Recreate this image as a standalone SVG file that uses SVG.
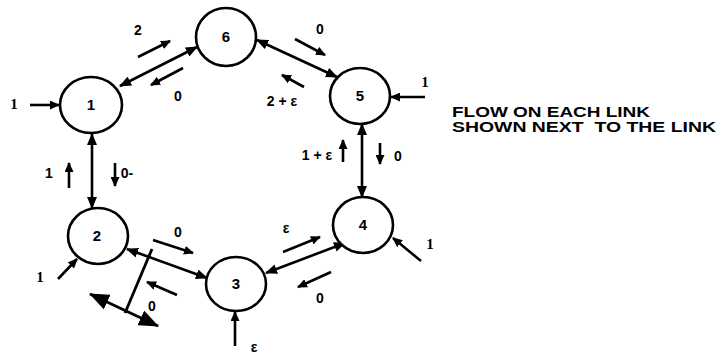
<svg xmlns="http://www.w3.org/2000/svg" width="717" height="357" viewBox="0 0 717 357">
  <style>
    .node ellipse { fill: #fff; stroke: #000; stroke-width: 2.6; }
    .node text { font-family: "Liberation Sans", Arial, sans-serif; font-weight: bold; font-size: 15px; text-anchor: middle; }
    .link { stroke: #000; stroke-width: 2.6; fill: none; marker-start: url(#head); marker-end: url(#head); }
    .flow { stroke: #000; stroke-width: 2.6; fill: none; marker-end: url(#small); }
    .lbl { font-family: "Liberation Sans", Arial, sans-serif; font-weight: bold; font-size: 14px; text-anchor: middle; }
    .ext { font-family: "Liberation Serif", "Times New Roman", serif; font-weight: bold; font-size: 15px; text-anchor: middle; }
    .note { font-family: "Liberation Sans", Arial, sans-serif; font-weight: bold; font-size: 14px; white-space: pre; }
  </style>
  <defs>
    <marker id="head" viewBox="0 0 12 10" refX="11" refY="5" markerWidth="12" markerHeight="10" markerUnits="userSpaceOnUse" orient="auto-start-reverse">
      <path d="M0,0 L12,5 L0,10 z" fill="#000"/>
    </marker>
    <marker id="small" viewBox="0 0 10 9" refX="9" refY="4.5" markerWidth="10" markerHeight="9" markerUnits="userSpaceOnUse" orient="auto">
      <path d="M0,0 L10,4.5 L0,9 z" fill="#000"/>
    </marker>
    <marker id="big" viewBox="0 0 20 16" refX="19" refY="8" markerWidth="20" markerHeight="16" markerUnits="userSpaceOnUse" orient="auto-start-reverse">
      <path d="M0,0 L20,8 L0,16 z" fill="#000"/>
    </marker>
  </defs>

  <!-- links between nodes, arrowheads at both ends -->
  <g id="links">
    <line class="link" x1="120" y1="86" x2="197" y2="47"/>
    <line class="link" x1="257" y1="40" x2="337" y2="77"/>
    <line class="link" x1="92" y1="134" x2="92" y2="208"/>
    <line class="link" x1="362" y1="124" x2="362" y2="197"/>
    <line class="link" x1="127" y1="249" x2="207" y2="278"/>
    <line class="link" x1="266" y1="273" x2="345" y2="243"/>
    <!-- cut across link 2-3 with its double arrow -->
    <line x1="152" y1="249" x2="125" y2="313" stroke="#000" stroke-width="2.8"/>
    <line x1="90" y1="294" x2="158" y2="326" stroke="#000" stroke-width="2.8" marker-start="url(#big)" marker-end="url(#big)"/>
  </g>

  <!-- flow indicators and external inputs -->
  <g id="flows">
    <line class="flow" x1="138" y1="57" x2="170" y2="41"/>
    <line class="flow" x1="183" y1="68" x2="151" y2="85"/>
    <line class="flow" x1="295" y1="39" x2="325" y2="55"/>
    <line class="flow" x1="304" y1="87" x2="282" y2="75"/>
    <line class="flow" x1="30" y1="105" x2="59" y2="105"/>
    <line class="flow" x1="425" y1="97" x2="391" y2="97"/>
    <line class="flow" x1="69" y1="188" x2="69" y2="163"/>
    <line class="flow" x1="115" y1="163" x2="115" y2="186"/>
    <line class="flow" x1="343" y1="162" x2="343" y2="140"/>
    <line class="flow" x1="380" y1="143" x2="380" y2="164"/>
    <line class="flow" x1="153" y1="240" x2="193" y2="253"/>
    <line class="flow" x1="177" y1="295" x2="147" y2="282"/>
    <line class="flow" x1="58" y1="279" x2="77" y2="259"/>
    <line class="flow" x1="283" y1="252" x2="320" y2="237"/>
    <line class="flow" x1="331" y1="272" x2="298" y2="287"/>
    <line class="flow" x1="421" y1="261" x2="393" y2="238"/>
    <line class="flow" x1="235" y1="346" x2="235" y2="312"/>
  </g>

  <g id="labels">
    <text class="lbl" x="138" y="35">2</text>
    <text class="lbl" x="178" y="101">0</text>
    <text class="lbl" x="320" y="34">0</text>
    <text class="lbl" x="282" y="106">2 + ε</text>
    <text class="ext" x="14" y="109">1</text>
    <text class="ext" x="425" y="87">1</text>
    <text class="lbl" x="49" y="178">1</text>
    <text class="lbl" x="127" y="178" text-anchor="start">0-</text>
    <text class="lbl" x="317" y="160">1 + ε</text>
    <text class="lbl" x="398" y="161">0</text>
    <text class="lbl" x="178" y="237">0</text>
    <text class="lbl" x="152" y="311">0</text>
    <text class="ext" x="40" y="282">1</text>
    <text class="lbl" x="286" y="233">ε</text>
    <text class="lbl" x="320" y="303">0</text>
    <text class="ext" x="430" y="249">1</text>
    <text class="lbl" x="254" y="352">ε</text>
  </g>

  <g id="node1" class="node"><ellipse cx="91" cy="105" rx="31" ry="28"/><text x="91" y="110">1</text></g>
  <g id="node2" class="node"><ellipse cx="98" cy="236" rx="30" ry="28"/><text x="97" y="241">2</text></g>
  <g id="node3" class="node"><ellipse cx="236" cy="284" rx="30" ry="27"/><text x="236" y="289">3</text></g>
  <g id="node4" class="node"><ellipse cx="363" cy="225" rx="30" ry="28"/><text x="363" y="230">4</text></g>
  <g id="node5" class="node"><ellipse cx="360" cy="96" rx="30" ry="28"/><text x="360" y="101">5</text></g>
  <g id="node6" class="node"><ellipse cx="226" cy="37" rx="30" ry="29"/><text x="226" y="42">6</text></g>

  <g id="legend">
    <text class="note" x="452" y="117" textLength="198" lengthAdjust="spacingAndGlyphs">FLOW ON EACH LINK</text>
    <text class="note" x="452" y="132" textLength="264" lengthAdjust="spacingAndGlyphs">SHOWN NEXT  TO THE LINK</text>
  </g>
</svg>
